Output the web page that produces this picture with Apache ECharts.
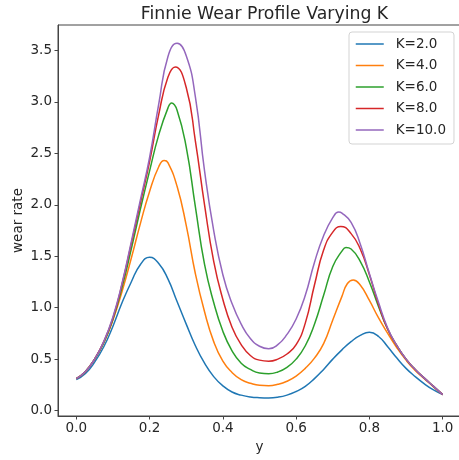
<!DOCTYPE html>
<html><head><meta charset="utf-8">
<script src="https://cdn.jsdelivr.net/npm/echarts@6/dist/echarts.min.js"></script>
<style>html,body{margin:0;padding:0;background:#fff}#c{width:459px;height:460px}</style>
</head><body><div id="c"></div>
<script>
const seriesNames = ['K=2.0','K=4.0','K=6.0','K=8.0','K=10.0'];
const xTicks = [0, 0.2, 0.4, 0.6, 0.8, 1.0];
const yTicks = [0, 0.5, 1.0, 1.5, 2.0, 2.5, 3.0, 3.5];

const xK2 = [0,0.025,0.05,0.075,0.1,0.125,0.15,0.175,0.2,0.225,0.25,0.275,0.3,0.325,0.35,0.375,0.4,0.425,0.45,0.475,0.5,0.525,0.55,0.575,0.6,0.625,0.65,0.675,0.7,0.725,0.75,0.775,0.8,0.825,0.85,0.875,0.9,0.925,0.95,0.975,1.0];
const wK2 = [0.30,0.36,0.47,0.62,0.82,1.05,1.25,1.42,1.49,1.43,1.28,1.06,0.84,0.63,0.46,0.33,0.24,0.18,0.15,0.132,0.125,0.123,0.13,0.15,0.185,0.235,0.31,0.40,0.50,0.59,0.67,0.73,0.76,0.72,0.62,0.51,0.41,0.33,0.26,0.20,0.155];

const xK4 = [0,0.025,0.05,0.075,0.1,0.125,0.15,0.175,0.2,0.225,0.24,0.25,0.275,0.3,0.325,0.35,0.375,0.4,0.425,0.45,0.475,0.5,0.525,0.55,0.575,0.6,0.625,0.65,0.675,0.7,0.725,0.74,0.756,0.775,0.8,0.825,0.85,0.875,0.9,0.925,0.95,0.975,1.0];
const wK4 = [0.31,0.38,0.50,0.66,0.88,1.16,1.48,1.82,2.13,2.37,2.43,2.41,2.18,1.80,1.33,0.96,0.67,0.48,0.37,0.30,0.265,0.245,0.242,0.255,0.285,0.335,0.41,0.51,0.65,0.88,1.11,1.235,1.27,1.22,1.07,0.90,0.75,0.61,0.49,0.39,0.31,0.23,0.155];

const xK6 = [0,0.025,0.05,0.075,0.1,0.125,0.15,0.175,0.2,0.225,0.25,0.26,0.275,0.3,0.325,0.35,0.375,0.4,0.425,0.45,0.475,0.5,0.525,0.55,0.575,0.6,0.625,0.65,0.675,0.7,0.725,0.736,0.75,0.775,0.8,0.825,0.85,0.875,0.9,0.925,0.95,0.975,1.0];
const wK6 = [0.31,0.38,0.50,0.66,0.89,1.20,1.57,1.96,2.33,2.68,2.94,2.99,2.92,2.56,1.98,1.42,1.05,0.77,0.58,0.46,0.40,0.365,0.358,0.375,0.42,0.50,0.63,0.84,1.12,1.40,1.55,1.585,1.57,1.45,1.25,1.01,0.79,0.63,0.50,0.40,0.315,0.235,0.155];

const xK8 = [0,0.025,0.05,0.075,0.1,0.125,0.15,0.175,0.2,0.225,0.25,0.27,0.3,0.325,0.35,0.375,0.4,0.425,0.45,0.475,0.5,0.525,0.55,0.575,0.6,0.625,0.65,0.675,0.7,0.722,0.75,0.775,0.8,0.825,0.85,0.875,0.9,0.925,0.95,0.975,1.0];
const wK8 = [0.31,0.38,0.50,0.67,0.90,1.23,1.62,2.02,2.42,2.88,3.24,3.34,3.14,2.62,2.00,1.45,1.08,0.81,0.64,0.535,0.49,0.48,0.50,0.55,0.64,0.85,1.22,1.56,1.735,1.79,1.72,1.57,1.32,1.03,0.79,0.63,0.50,0.40,0.315,0.235,0.155];

const xK10 = [0,0.025,0.05,0.075,0.1,0.125,0.15,0.175,0.2,0.225,0.25,0.275,0.3,0.325,0.35,0.375,0.4,0.425,0.45,0.475,0.5,0.525,0.55,0.575,0.6,0.625,0.65,0.675,0.7,0.716,0.725,0.75,0.775,0.8,0.825,0.85,0.875,0.9,0.925,0.95,0.975,1.0];
const wK10 = [0.31,0.38,0.50,0.67,0.91,1.24,1.64,2.05,2.46,2.98,3.44,3.57,3.45,3.05,2.33,1.75,1.32,1.04,0.84,0.70,0.625,0.60,0.64,0.74,0.89,1.12,1.44,1.70,1.875,1.93,1.92,1.83,1.62,1.33,1.05,0.80,0.63,0.50,0.40,0.315,0.235,0.155];

const xs = [xK2, xK4, xK6, xK8, xK10];
const ws = [wK2, wK4, wK6, wK8, wK10];
const colors = ['#1f77b4','#ff7f0e','#2ca02c','#d62728','#9467bd'];

const FONT = 'DejaVu Sans';
const TXT = '#262626';
const chart = echarts.init(document.getElementById('c'), null, {renderer: 'canvas'});
chart.setOption({
  animation: false,
  color: colors,
  title: {
    text: 'Finnie Wear Profile Varying K',
    left: 259.5, top: 1, textAlign: 'center',
    textStyle: {fontFamily: FONT, fontSize: 17.3, fontWeight: 'normal', color: TXT}
  },
  legend: {
    orient: 'vertical', left: 349, top: 32,
    padding: [5, 8, 7, 6], itemWidth: 28, itemHeight: 14, itemGap: 7.5,
    backgroundColor: '#fff', borderColor: '#d3d3d3', borderWidth: 1, borderRadius: 3,
    itemStyle: {opacity: 0},
    lineStyle: {width: 1.5},
    textStyle: {fontFamily: FONT, fontSize: 13.5, color: TXT, padding: [0, 0, 0, 7]},
    data: seriesNames
  },
  grid: {left: 58, width: 403, top: 25, bottom: 44, outerBoundsMode: 'none', containLabel: false,
         show: true, borderColor: '#444', borderWidth: 1, backgroundColor: 'transparent'},
  xAxis: {
    type: 'value', min: -0.05, max: 1.05,
    name: 'y', nameLocation: 'middle', nameGap: 24,
    nameTextStyle: {fontFamily: FONT, fontSize: 13.5, color: TXT},
    axisLine: {show: true, onZero: false, lineStyle: {color: '#444', width: 1}},
    axisTick: {show: true, length: 3.5, lineStyle: {color: '#444'}, customValues: xTicks},
    axisLabel: {fontFamily: FONT, fontSize: 13.5, color: TXT, margin: 5, customValues: xTicks, formatter: v => v.toFixed(1)},
    splitLine: {show: false}
  },
  yAxis: {
    type: 'value', min: -0.053, max: 3.748,
    name: 'wear rate', nameLocation: 'middle', nameGap: 33, nameRotate: 90, nameMoveOverlap: false,
    nameTextStyle: {fontFamily: FONT, fontSize: 13.5, color: TXT},
    axisLine: {show: true, onZero: false, lineStyle: {color: '#444', width: 1}},
    axisTick: {show: true, length: 3.5, lineStyle: {color: '#444'}, customValues: yTicks},
    axisLabel: {fontFamily: FONT, fontSize: 13.5, color: TXT, margin: 6, customValues: yTicks, formatter: v => v.toFixed(1)},
    splitLine: {show: false}
  },
  series: seriesNames.map((n, i) => ({
    name: n, type: 'line', symbol: 'none', smooth: 0.5,
    lineStyle: {width: 1.5, color: colors[i]},
    itemStyle: {color: colors[i]},
    data: xs[i].map((x, j) => [x, ws[i][j]])
  }))
});
</script></body></html>
